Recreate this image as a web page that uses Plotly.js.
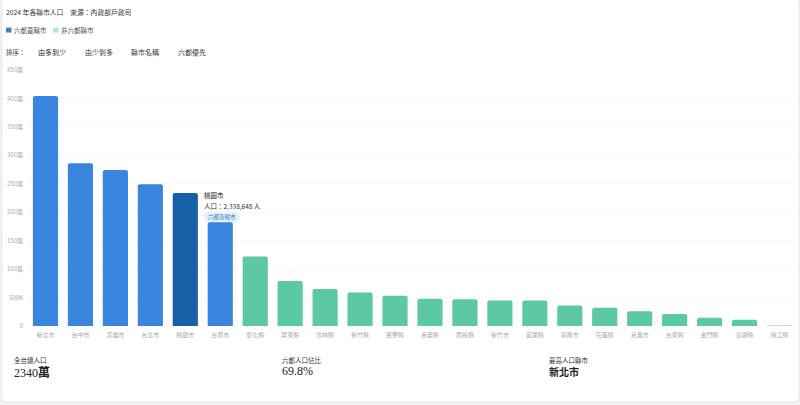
<!DOCTYPE html>
<html><head><meta charset="utf-8">
<script src="https://cdn.plot.ly/plotly-3.0.1.min.js"></script>
<style>html,body{margin:0;padding:0;background:#fff;overflow:hidden}</style></head>
<body><div id="chart" style="width:800px;height:405px"></div>
<script>
const categories = ['新北市','台中市','高雄市','台北市','桃園市','台南市','彰化縣','屏東縣','雲林縣','新竹縣','苗栗縣','嘉義縣','南投縣','新竹市','宜蘭縣','基隆市','花蓮縣','嘉義市','台東縣','金門縣','澎湖縣','連江縣'];
const sixCities = ['新北市','台中市','高雄市','台北市','桃園市','台南市'];
const sixValues = [404.5,286,274,249,233.9,183];
const sixColors = ['#3a86de','#3a86de','#3a86de','#3a86de','#175fa6','#3a86de'];
const otherCities = categories.slice(6);
const otherValues = [122,79,65,59,53,48,47,45,45,36,32,26,21,14.5,11,1.4];
const otherColors = otherCities.map((c,i)=> i===otherCities.length-1 ? '#b5e4d2' : '#5dc9a3');
const tickVals = [0,50,100,150,200,250,300,350,400,450];
const tickText = ['0','500K','100萬','150萬','200萬','250萬','300萬','350萬','400萬','450萬'];
const FONT = '"Noto Sans CJK TC","Noto Sans",sans-serif';
const SERIF = '"Liberation Serif","Noto Sans CJK TC",serif';
function t(x,y,text,size,color,extra){return Object.assign({xref:'paper',yref:'paper',xanchor:'left',yanchor:'middle',
  x:(x-2-28)/769,y:(326-y)/256.5,text:text,showarrow:false,font:{size:size,color:color,family:FONT}},extra||{});}
const annotations=[
 t(6,11,'2024 年各縣市人口　來源：內政部戶政司',6.8,'#333'),
 t(14,29.5,'六都直轄市',6.5,'#555'),
 t(61,29.5,'非六都縣市',6.5,'#555'),
 t(6,51,'排序：',6.5,'#444'),
 t(38,51,'由多到少',7,'#222'),
 t(85,51,'由少到多',7,'#333'),
 t(131,51,'縣市名稱',7,'#333'),
 t(178,51,'六都優先',7,'#333'),
 t(204,194.5,'桃園市',6.5,'#222'),
 t(204,205.5,'人口：2,338,648 人',6.5,'#333'),
 t(207.5,217,'六都直轄市',5.5,'#3a78c0'),
 t(14,360,'全台總人口',6.5,'#333'),
 t(14,373.5,'2340<b>萬</b>',12,'#222',{font:{size:12,color:'#222',family:SERIF}}),
 t(282,360,'六都人口佔比',6.5,'#333'),
 t(282,371,'69.8%',12,'#222',{font:{size:12,color:'#222',family:SERIF}}),
 t(549,360,'最高人口縣市',6.5,'#333'),
 t(549,372,'<b>新北市</b>',10,'#222')
];
function px(x){return (x-28)/769} function py(y){return (326-y)/256.5}
function rounded(x0,y0,x1,y1,r){const X=v=>px(v).toFixed(5),Y=v=>py(v).toFixed(5);
 return `M${X(x0+r)},${Y(y0)} L${X(x1-r)},${Y(y0)} Q${X(x1)},${Y(y0)} ${X(x1)},${Y(y0+r)} L${X(x1)},${Y(y1-r)} Q${X(x1)},${Y(y1)} ${X(x1-r)},${Y(y1)} L${X(x0+r)},${Y(y1)} Q${X(x0)},${Y(y1)} ${X(x0)},${Y(y1-r)} L${X(x0)},${Y(y0+r)} Q${X(x0)},${Y(y0)} ${X(x0+r)},${Y(y0)} Z`;}
const shapes=[
 {type:'rect',xref:'paper',yref:'paper',layer:'below',x0:px(-2),x1:px(802),y0:py(407),y1:py(-2),line:{width:0},fillcolor:'#f1f1f1'},
 {type:'path',xref:'paper',yref:'paper',layer:'below',path:rounded(2,-4,799,402,5),line:{color:'#e9e9e9',width:1},fillcolor:'#fff'},
 {type:'path',xref:'paper',yref:'paper',layer:'above',path:rounded(204,212,240,222,4),line:{width:0},fillcolor:'#e4f0fb'},
 {type:'rect',xref:'paper',yref:'paper',layer:'above',x0:px(6),x1:px(11.5),y0:py(32),y1:py(27),line:{width:0},fillcolor:'#3a86c8'},
 {type:'rect',xref:'paper',yref:'paper',layer:'above',x0:px(53),x1:px(58.5),y0:py(32),y1:py(27),line:{width:0},fillcolor:'#b5e4d2'}
];
const data=[
 {type:'bar',name:'六都直轄市',x:sixCities,y:sixValues,marker:{color:sixColors,cornerradius:2,line:{width:0}},width:0.72,hoverinfo:'x+y'},
 {type:'bar',name:'非六都縣市',x:otherCities,y:otherValues,marker:{color:otherColors,cornerradius:2,line:{width:0}},width:0.72,hoverinfo:'x+y'}
];
const layout={width:800,height:405,autosize:false,margin:{l:28,r:3,t:69.5,b:79,pad:0},
 paper_bgcolor:'#fff',plot_bgcolor:'rgba(0,0,0,0)',font:{family:FONT},barmode:'overlay',
 showlegend:false,
 xaxis:{type:'category',categoryorder:'array',categoryarray:categories,tickfont:{size:6,color:'#aaa',family:FONT},ticks:'',ticklabelstandoff:4,showline:false,showgrid:false,zeroline:false,tickangle:0,automargin:false},
 yaxis:{range:[0,450],tickmode:'array',tickvals:tickVals,ticktext:tickText,tickfont:{size:6,color:'#aaa',family:FONT},ticks:'',ticklabelstandoff:4,showline:false,gridcolor:'#f8f8f8',gridwidth:1,zeroline:false,automargin:false},
 annotations:annotations,shapes:shapes};
Plotly.newPlot('chart',data,layout,{displayModeBar:false,responsive:false});
</script></body></html>
